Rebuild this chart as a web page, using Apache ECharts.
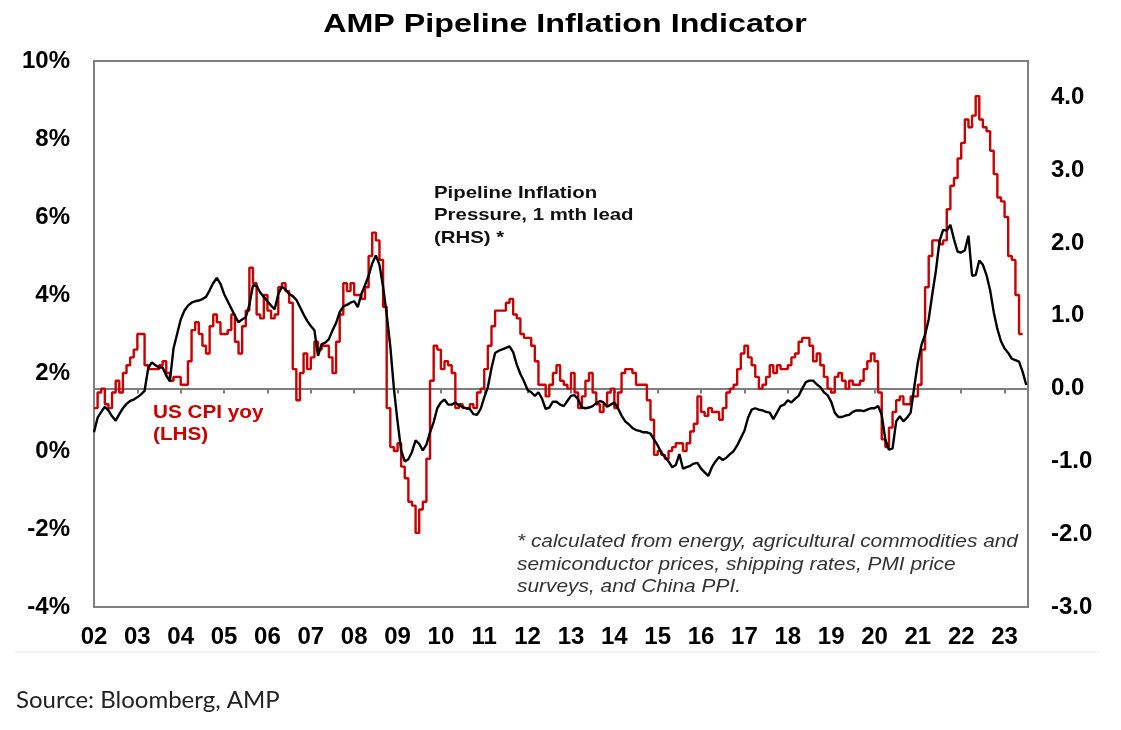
<!DOCTYPE html>
<html>
<head>
<meta charset="utf-8">
<title>AMP Pipeline Inflation Indicator</title>
<script src="https://cdn.jsdelivr.net/npm/echarts@6/dist/echarts.min.js"></script>
<style>
html,body{margin:0;padding:0;background:#fff;}
#main{width:1121px;height:730px;}
</style>
</head>
<body>
<div id="main"></div>
<script>
// monthly data, first value = Jan 2002
var startYear = 2002;
var endYear = 2023.54;

// US CPI yoy %, LHS
var cpiYoy = [
  1.1, 1.1, 1.5, 1.6, 1.2, 1.1, 1.5, 1.8, 1.5, 2.0, 2.2, 2.4,
  2.6, 3.0, 3.0, 2.2, 2.1, 2.1, 2.1, 2.2, 2.3, 2.0, 1.8, 1.9,
  1.9, 1.7, 1.7, 2.3, 3.1, 3.3, 3.0, 2.7, 2.5, 3.2, 3.5, 3.3,
  3.0, 3.0, 3.1, 3.5, 2.8, 2.5, 3.2, 3.6, 4.7, 4.3, 3.5, 3.4,
  4.0, 3.6, 3.4, 3.5, 4.2, 4.3, 4.1, 3.8, 2.1, 1.3, 2.0, 2.5,
  2.1, 2.4, 2.8, 2.6, 2.7, 2.7, 2.4, 2.0, 2.8, 3.5, 4.3, 4.1,
  4.3, 4.0, 4.0, 3.9, 4.2, 5.0, 5.6, 5.4, 4.9, 3.7, 1.1, 0.1,
  0.0, 0.2, -0.4, -0.7, -1.3, -1.4, -2.1, -1.5, -1.3, -0.2, 1.8, 2.7,
  2.6, 2.1, 2.3, 2.2, 2.0, 1.1, 1.2, 1.1, 1.1, 1.2, 1.1, 1.5,
  1.6, 2.1, 2.7, 3.2, 3.6, 3.6, 3.6, 3.8, 3.9, 3.5, 3.4, 3.0,
  2.9, 2.9, 2.7, 2.3, 1.7, 1.7, 1.4, 1.7, 2.0, 2.2, 1.8, 1.7,
  1.6, 2.0, 1.5, 1.1, 1.4, 1.8, 2.0, 1.5, 1.2, 1.0, 1.2, 1.5,
  1.6, 1.1, 1.5, 2.0, 2.1, 2.1, 2.0, 1.7, 1.7, 1.7, 1.3, 0.8,
  -0.1, 0.0, -0.1, -0.2, 0.0, 0.1, 0.2, 0.2, 0.0, 0.2, 0.5, 0.7,
  1.4, 1.0, 0.9, 1.1, 1.0, 1.0, 0.8, 1.1, 1.5, 1.6, 1.7, 2.1,
  2.5, 2.7, 2.4, 2.2, 1.9, 1.6, 1.7, 1.9, 2.2, 2.0, 2.2, 2.1,
  2.1, 2.2, 2.4, 2.5, 2.8, 2.9, 2.9, 2.7, 2.3, 2.5, 2.2, 1.9,
  1.6, 1.5, 1.9, 2.0, 1.8, 1.6, 1.8, 1.7, 1.7, 1.8, 2.1, 2.3,
  2.5, 2.3, 1.5, 0.3, 0.1, 0.6, 1.0, 1.3, 1.4, 1.2, 1.2, 1.4,
  1.4, 1.7, 2.6, 4.2, 5.0, 5.4, 5.4, 5.3, 5.4, 6.2, 6.8, 7.0,
  7.5, 7.9, 8.5, 8.3, 8.6, 9.1, 8.5, 8.3, 8.2, 7.7, 7.1, 6.5,
  6.4, 6.0, 5.0, 4.9, 4.0, 3.0
];

// Pipeline inflation pressure, 1 mth lead, RHS
var pipeline = [
  -0.60, -0.40, -0.32, -0.25, -0.30, -0.38, -0.44, -0.35, -0.27, -0.21, -0.17, -0.15,
  -0.12, -0.08, -0.03, 0.28, 0.36, 0.32, 0.29, 0.29, 0.18, 0.10, 0.55, 0.75,
  0.95, 1.07, 1.14, 1.18, 1.20, 1.21, 1.23, 1.26, 1.35, 1.45, 1.52, 1.44,
  1.30, 1.20, 1.10, 1.00, 0.91, 0.95, 0.98, 1.15, 1.42, 1.41, 1.32, 1.26,
  1.20, 1.14, 1.09, 1.30, 1.40, 1.36, 1.30, 1.27, 1.22, 1.12, 1.02, 0.93,
  0.86, 0.80, 0.45, 0.61, 0.63, 0.68, 0.80, 0.90, 1.05, 1.13, 1.15, 1.18,
  1.20, 1.12, 1.30, 1.42, 1.55, 1.72, 1.83, 1.70, 1.40, 1.02, 0.58, 0.00,
  -0.45, -0.85, -1.00, -0.97, -0.87, -0.71, -0.76, -0.85, -0.77, -0.60, -0.46, -0.27,
  -0.19, -0.15, -0.22, -0.22, -0.19, -0.23, -0.25, -0.27, -0.28, -0.35, -0.36, -0.28,
  -0.12, 0.02, 0.28, 0.49, 0.52, 0.54, 0.56, 0.58, 0.50, 0.33, 0.20, 0.10,
  -0.02, -0.05, -0.10, -0.05, -0.14, -0.28, -0.26, -0.18, -0.18, -0.22, -0.24, -0.17,
  -0.10, -0.09, -0.15, -0.26, -0.27, -0.26, -0.24, -0.20, -0.17, -0.19, -0.25, -0.22,
  -0.19, -0.27, -0.37, -0.45, -0.49, -0.54, -0.57, -0.58, -0.60, -0.60, -0.62, -0.70,
  -0.78, -0.88, -0.94, -1.00, -1.08, -1.05, -0.90, -1.10, -1.08, -1.06, -1.03, -1.02,
  -1.10, -1.15, -1.20, -1.08, -1.00, -0.94, -0.98, -0.95, -0.90, -0.86, -0.78, -0.68,
  -0.58, -0.40, -0.29, -0.27, -0.29, -0.30, -0.32, -0.33, -0.42, -0.33, -0.24, -0.22,
  -0.16, -0.19, -0.14, -0.10, 0.00, 0.09, 0.11, 0.11, 0.06, 0.02, -0.05, -0.09,
  -0.18, -0.33, -0.39, -0.39, -0.37, -0.36, -0.32, -0.30, -0.30, -0.31, -0.29, -0.27,
  -0.27, -0.24, -0.36, -0.70, -0.84, -0.82, -0.45, -0.38, -0.45, -0.40, -0.33, 0.02,
  0.36, 0.60, 0.74, 0.95, 1.30, 1.62, 2.03, 2.18, 2.17, 2.25, 2.05, 1.88,
  1.87, 1.90, 2.10, 1.55, 1.56, 1.76, 1.70, 1.56, 1.35, 1.05, 0.82, 0.65,
  0.55, 0.49, 0.41, 0.39, 0.37, 0.23, 0.05
];

// axis ranges / tick steps
var lhsTicks = [-4, 10, 2];
var rhsTicks = [-3, 4.5, 1];

function toPoints(arr) {
  return arr.map(function (v, i) { return [startYear + i / 12, v]; });
}
function isWhole(v) { return Math.abs(v - Math.round(v)) < 1e-6; }

var fam = '"Liberation Sans", Arial, sans-serif';
var gray = '#7f7f7f';
var red = '#c80000';
var labelStyle = { color: '#000', fontFamily: fam, fontWeight: 'bold', fontSize: 24 };

var myChart = echarts.init(document.getElementById('main'));
var option = {
  animation: false,
  backgroundColor: '#fff',
  grid: {
    left: 94, right: 93, top: 61, bottom: 123,
    containLabel: false,
    show: true, borderColor: gray, borderWidth: 2, backgroundColor: 'transparent'
  },
  xAxis: [{
    type: 'value', min: startYear, max: endYear, interval: 1,
    position: 'bottom',
    axisLine: { show: false, onZero: false },
    axisTick: { show: false },
    splitLine: { show: false },
    axisLabel: Object.assign({
      margin: 18,
      formatter: function (v) { return isWhole(v) ? String(Math.round(v)).slice(2) : ''; }
    }, labelStyle)
  }, {
    // zero line of the RHS axis, with year ticks
    type: 'value', min: startYear, max: endYear, interval: 1,
    position: 'bottom',
    axisLine: { show: true, onZero: true, onZeroAxisIndex: 1, lineStyle: { color: gray, width: 2 } },
    axisTick: { show: true, length: 5, lineStyle: { color: gray, width: 2 } },
    axisLabel: { show: false },
    splitLine: { show: false }
  }],
  yAxis: [{
    type: 'value', min: lhsTicks[0], max: lhsTicks[1], interval: lhsTicks[2],
    position: 'left',
    axisLine: { show: false }, axisTick: { show: false }, splitLine: { show: false },
    axisLabel: Object.assign({ margin: 24, formatter: '{value}%' }, labelStyle)
  }, {
    type: 'value', min: rhsTicks[0], max: rhsTicks[1], interval: rhsTicks[2],
    position: 'right',
    axisLine: { show: false }, axisTick: { show: false }, splitLine: { show: false },
    axisLabel: Object.assign({
      margin: 23,
      formatter: function (v) { return isWhole(v) ? v.toFixed(1) : ''; }
    }, labelStyle)
  }],
  series: [{
    name: 'US CPI yoy (LHS)',
    type: 'line', xAxisIndex: 0, yAxisIndex: 0,
    data: toPoints(cpiYoy),
    step: 'start', symbol: 'none',
    lineStyle: { color: red, width: 2.4 },
    z: 3
  }, {
    name: 'Pipeline Inflation Pressure (RHS)',
    type: 'line', xAxisIndex: 0, yAxisIndex: 1,
    data: toPoints(pipeline),
    symbol: 'none',
    lineStyle: { color: '#000', width: 2.4 },
    z: 4
  }],
  graphic: [{
    // title, stretched wide like the original
    type: 'text', x: 565, y: 25, scaleX: 1.24,
    style: { text: 'AMP Pipeline Inflation Indicator', fill: '#000',
      font: 'bold 26px ' + fam, align: 'center', verticalAlign: 'middle' }
  }, {
    type: 'text', x: 434, y: 182, scaleX: 1.2,
    style: { text: 'Pipeline Inflation\nPressure, 1 mth lead\n(RHS) *', fill: '#111',
      font: 'bold 17px ' + fam, lineHeight: 22.5 }
  }, {
    type: 'text', x: 153, y: 402, scaleX: 1.09,
    style: { text: 'US CPI yoy\n(LHS)', fill: red,
      font: 'bold 19px ' + fam, lineHeight: 22 }
  }, {
    type: 'text', x: 517, y: 531, scaleX: 1.16,
    style: { text: '* calculated from energy, agricultural commodities and\nsemiconductor prices, shipping rates, PMI price\nsurveys, and China PPI.',
      fill: '#333', font: 'italic 18px ' + fam, lineHeight: 22.5 }
  }, {
    type: 'line', shape: { x1: 15, y1: 652, x2: 1100, y2: 652 },
    style: { stroke: '#ececec', lineWidth: 1 }
  }, {
    type: 'text', x: 16, y: 688,
    style: { text: 'Source: Bloomberg, AMP', fill: '#222', font: '24px Lato, "Open Sans", sans-serif' }
  }]
};
myChart.setOption(option);
</script>
</body>
</html>
